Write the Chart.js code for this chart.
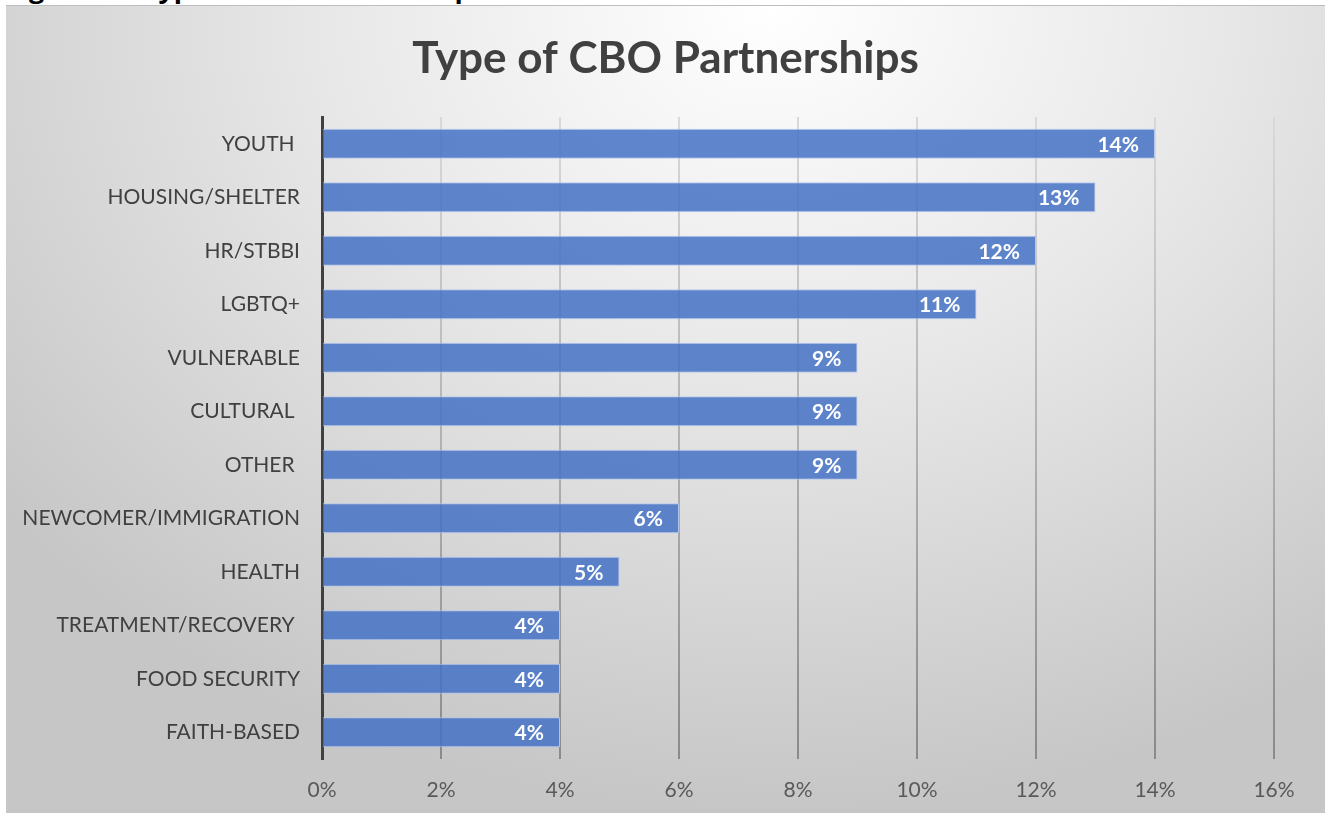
<!DOCTYPE html>
<html>
<head>
<meta charset="utf-8">
<script src="https://cdn.jsdelivr.net/npm/chart.js@4"></script>
<style>
  html,body{margin:0;padding:0;background:#fff;width:1331px;height:813px;overflow:hidden;}
  #cap{position:absolute;left:0;top:0;width:1331px;height:5px;overflow:hidden;}
  #cap span{position:absolute;left:6px;top:-31px;font:bold 27px "Open Sans",sans-serif;color:#000;white-space:nowrap;}
  #box{position:absolute;left:6px;top:5px;width:1319px;height:808px;border-top:1px solid #bdbdbd;box-sizing:border-box;
    background:radial-gradient(ellipse 75% 100% at 58% 0%,#ffffff 0%,#e8e8e8 45%,#c6c6c6 100%);}
  #box canvas{display:block;}
</style>
</head>
<body>
<div id="cap"><span>Figure 10: Type of CBO Partnerships</span></div>
<div id="box"><canvas id="c" width="1319" height="807"></canvas></div>
<script>
// ===== data =====
const categories = ["YOUTH ","HOUSING/SHELTER","HR/STBBI","LGBTQ+","VULNERABLE","CULTURAL ","OTHER ","NEWCOMER/IMMIGRATION","HEALTH","TREATMENT/RECOVERY ","FOOD SECURITY","FAITH-BASED"];
const shares = [14,13,12,11,9,9,9,6,5,4,4,4];
const xTicks = [0,2,4,6,8,10,12,14,16];
const chartTitle = "Type of CBO Partnerships";

// value labels inside bar ends
const barLabels = {
  id:"barLabels",
  afterDatasetsDraw(chart){
    const ctx = chart.ctx;
    const meta = chart.getDatasetMeta(0);
    ctx.save();
    ctx.font = "bold 21px Lato, sans-serif";
    ctx.fillStyle = "#ffffff";
    ctx.textAlign = "right";
    ctx.textBaseline = "middle";
    meta.data.forEach((bar,i)=>{
      ctx.fillText(shares[i]+"%", bar.x-16, bar.y+1);
    });
    ctx.restore();
  }
};

// title centred on the whole box (chart.js title would follow the layout padding)
const boxTitle = {
  id:"boxTitle",
  afterDraw(chart){
    const ctx = chart.ctx;
    ctx.save();
    ctx.font = "bold 44px Lato, sans-serif";
    ctx.fillStyle = "#404040";
    ctx.textAlign = "center";
    ctx.textBaseline = "middle";
    ctx.fillText(chartTitle, chart.width/2, 53);
    ctx.restore();
  }
};

function gridGrad(c){
  const a = c.chart.chartArea;
  if(!a) return "#c0c0c0";
  const g = c.chart.ctx.createLinearGradient(0,a.top,0,a.bottom);
  g.addColorStop(0,"#d9d9d9");
  g.addColorStop(1,"#8a8a8a");
  return g;
}

new Chart(document.getElementById("c"),{
  type:"bar",
  data:{labels:categories,datasets:[{
    data:shares,
    backgroundColor:"rgba(68,114,196,0.85)",
    borderColor:"rgba(180,200,238,0.9)",
    borderWidth:1,
    barPercentage:0.56,
    categoryPercentage:1
  }]},
  options:{
    indexAxis:"y",
    responsive:false,
    animation:false,
    layout:{padding:{left:0,right:51,top:111,bottom:11}},
    plugins:{
      legend:{display:false},
      tooltip:{enabled:false},
      title:{display:false}
    },
    scales:{
      x:{
        min:0,max:16,
        afterBuildTicks(s){ s.ticks = xTicks.map(v=>({value:v})); },
        afterFit(s){ s.height = 43; },
        ticks:{callback:v=>v+"%",color:"#595959",font:{family:"Lato",size:21},padding:19},
        grid:{color:gridGrad,lineWidth:2,drawTicks:false},
        border:{display:false}
      },
      y:{
        afterFit(s){ s.width = 316; },
        ticks:{color:"#404040",font:{family:"Lato",size:21},padding:22},
        grid:{display:false,drawTicks:false},
        border:{display:true,color:"#404040",width:3}
      }
    }
  },
  plugins:[barLabels,boxTitle]
});
</script>
</body>
</html>
